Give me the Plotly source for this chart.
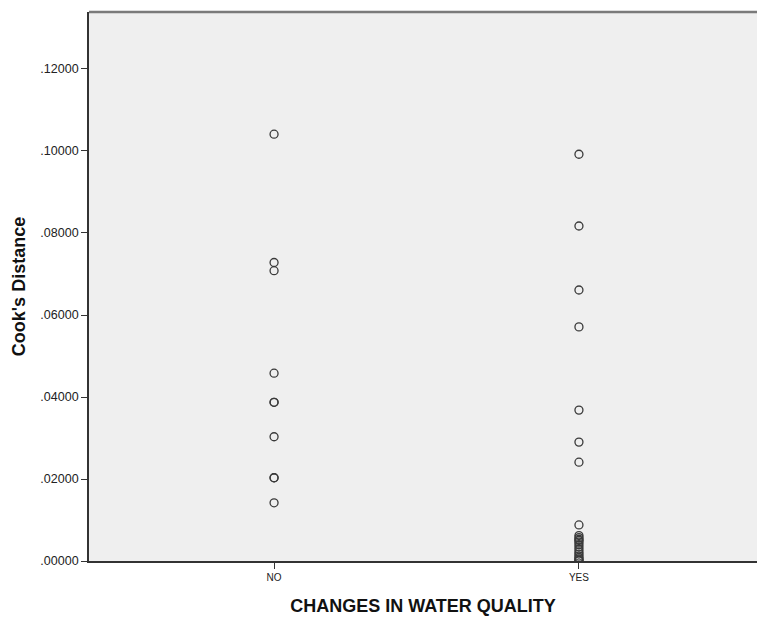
import plotly.graph_objects as go

categories = ["NO", "YES"]
no_values = [0.1041, 0.0728, 0.0708, 0.0458, 0.0387, 0.0387, 0.0303, 0.0203, 0.0203, 0.0142]
yes_values = [0.0992, 0.0817, 0.0661, 0.0571, 0.0368, 0.0290, 0.0241, 0.0088,
              0.0062, 0.0057, 0.0053, 0.0050, 0.0046, 0.0040, 0.0034, 0.0028,
              0.0022, 0.0017, 0.0012, 0.0008, 0.0005, 0.0002, 0.0001]
tick_vals = [0.0, 0.02, 0.04, 0.06, 0.08, 0.10, 0.12]
tick_text = [".00000", ".02000", ".04000", ".06000", ".08000", ".10000", ".12000"]

xs = [categories[0]] * len(no_values) + [categories[1]] * len(yes_values)
ys = no_values + yes_values

fig = go.Figure()
fig.add_trace(go.Scatter(
    x=xs, y=ys, mode="markers",
    marker=dict(symbol="circle-open", size=8, color="#3a3a3a", line=dict(width=1.3, color="#3a3a3a")),
    showlegend=False, hoverinfo="skip",
))

font_family = "Arial, Liberation Sans, sans-serif"
fig.update_layout(
    width=757, height=619,
    margin=dict(l=89, r=0, t=12, b=58),
    paper_bgcolor="white",
    plot_bgcolor="#efefef",
    font=dict(family=font_family, color="#222222"),
    xaxis=dict(
        type="category",
        categoryorder="array", categoryarray=categories,
        range=[-0.607, 1.584],
        showgrid=False, zeroline=False,
        showline=True, linecolor="#333333", linewidth=1.8,
        ticks="outside", ticklen=6, tickcolor="#333333", tickwidth=1,
        tickfont=dict(size=10, color="#222222"),
        title=dict(text="<b>CHANGES IN WATER QUALITY</b>", font=dict(size=18, color="#111111"), standoff=17),
    ),
    yaxis=dict(
        range=[0, 0.1339],
        tickvals=tick_vals, ticktext=tick_text,
        showgrid=False, zeroline=False,
        showline=True, linecolor="#333333", linewidth=1.8,
        ticks="outside", ticklen=6, tickcolor="#333333", tickwidth=1,
        tickfont=dict(size=12.5, color="#222222"),
        title=dict(text="<b>Cook's Distance</b>", font=dict(size=18, color="#111111"), standoff=10),
    ),
    shapes=[dict(type="line", xref="paper", yref="paper", x0=0, x1=1, y0=1, y1=1,
                 line=dict(color="#7a7a7a", width=2.5))],
)

fig.write_html("out.html")
